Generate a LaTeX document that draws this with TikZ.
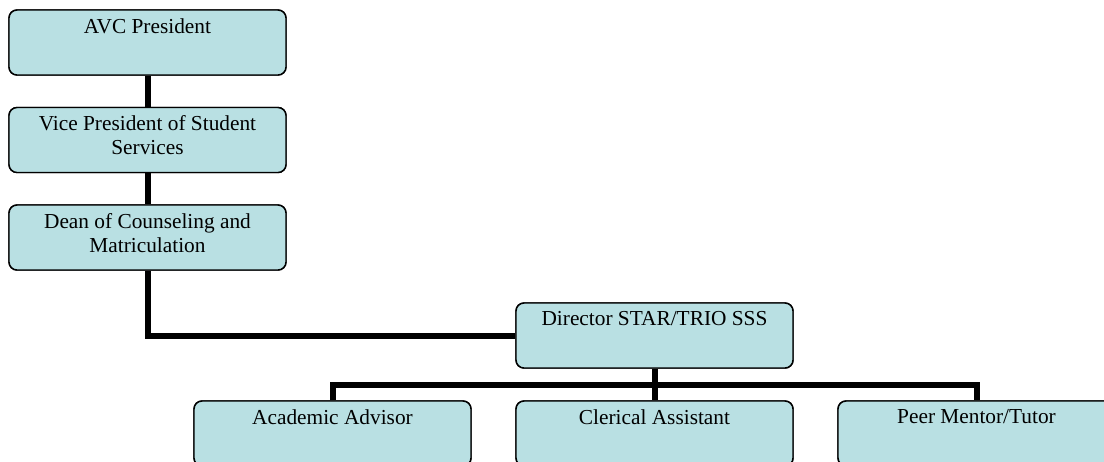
\documentclass[tikz,border=0pt]{standalone}
\usepackage{fontspec}
\setmainfont{Liberation Serif}
\begin{document}
\begin{tikzpicture}[x=0.75pt,y=-0.75pt,
  orgbox/.style={draw=black, line width=1.1pt, rounded corners=6pt, fill=boxblue,
    minimum width=207.75pt, minimum height=48.75pt, inner sep=0pt},
  boxtext/.style={anchor=north, align=center, inner sep=0pt, font=\fontsize{16}{18}\selectfont, yshift=-6.5pt},
  link/.style={line width=4.5pt, draw=black}]
\definecolor{boxblue}{RGB}{185,224,227}
\useasboundingbox (0,0) rectangle (1104,461);
\clip (0,0) rectangle (1104,461);
\node[orgbox] (avc) at (147.5,42.5) {};
\node[orgbox] (vp) at (147.5,140) {};
\node[orgbox] (dean) at (147.5,237.5) {};
\node[orgbox] (dir) at (654.5,335.5) {};
\node[orgbox] (aa) at (332.5,433.5) {};
\node[orgbox] (ca) at (654.5,433.5) {};
\node[orgbox] (pm) at (976.5,433.5) {};
\coordinate (bus) at (654.5,385);
% connectors
\draw[link] (avc.south) -- (vp.north);
\draw[link] (vp.south) -- (dean.north);
\draw[link] (dean.south) |- (dir.west);
\draw[link] (dir.south) -- (bus);
\draw[link] (aa.north) |- (bus) -| (pm.north);
\draw[link] (bus) -- (ca.north);
% boxes on top with their texts
\foreach \n/\t in {avc/{AVC President}, vp/{Vice President of Student\\Services}, dean/{Dean of Counseling and\\Matriculation}, dir/{Director STAR/TRIO SSS}, aa/{Academic Advisor}, ca/{Clerical Assistant}, pm/{Peer Mentor/Tutor}}{
  \node[orgbox] at (\n) {};
  \node[boxtext] at (\n.north) {\t};
}
\end{tikzpicture}
\end{document}
